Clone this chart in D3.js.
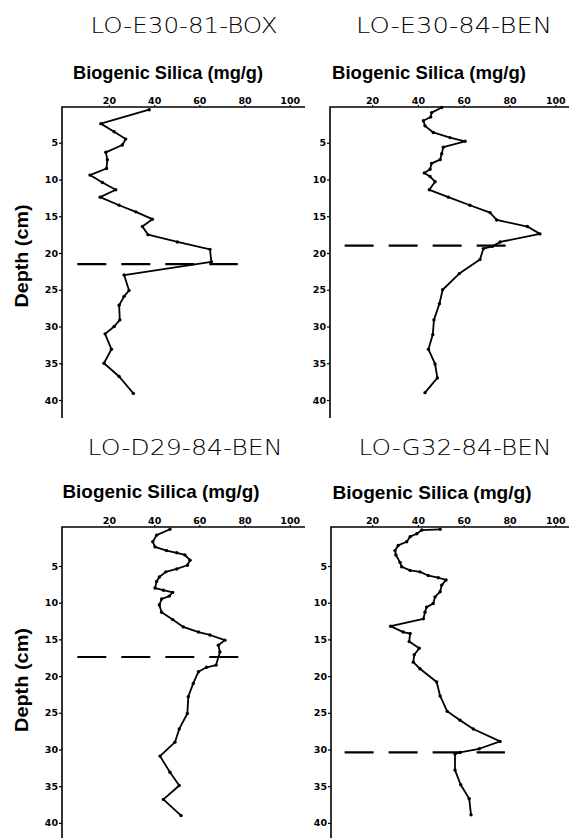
<!DOCTYPE html>
<html>
<head>
<meta charset="utf-8">
<script src="https://cdn.jsdelivr.net/npm/d3@7"></script>
<style>
  body { margin: 0; background: #fff; }
  svg { display: block; }
  .tick text { font-family: 'DejaVu Sans', sans-serif; font-weight: bold; font-size: 9.5px; fill: #000; }
  .tick line { stroke: #000; stroke-width: 1.2; }
  .core-title { font-family: 'DejaVu Sans', sans-serif; font-weight: 300; font-size: 22px; }
  .axis-title { font-family: 'Liberation Sans', Arial, sans-serif; font-weight: bold; font-size: 19px; }
</style>
</head>
<body>
<div id="chart"></div>
<script>
// Biogenic silica profiles, four cores
const WIDTH = 569;
const HEIGHT = 838;

const CORE_NAMES = ['LO-E30-81-BOX', 'LO-E30-84-BEN', 'LO-D29-84-BEN', 'LO-G32-84-BEN'];
const SILICA_TICKS = [20, 40, 60, 80, 100];
const DEPTH_TICKS = [5, 10, 15, 20, 25, 30, 35, 40];
const X_TITLES = ['Biogenic Silica (mg/g)', 'Biogenic Silica  (mg/g)', 'Biogenic Silica  (mg/g)', 'Biogenic Silica  (mg/g)'];
const Y_TITLE = 'Depth  (cm)';

// depth (cm) and biogenic silica (mg/g)
const E30_81_DEPTH = [0.5, 2.4, 3.5, 4.5, 5.3, 6.3, 7.3, 8.5, 9.4, 10.4, 11.4, 12.4, 13.5, 14.4, 15.4, 16.4, 17.5, 18.5, 19.5, 21.2, 23.0, 25.1, 25.9, 27.1, 29.1, 30.0, 31.0, 33.1, 35.0, 36.8, 39.1];
const E30_81_SILICA = [37.8, 16.4, 22.3, 27.4, 25.9, 18.6, 19.3, 18.9, 11.6, 17.1, 23.0, 16.1, 24.5, 31.9, 39.2, 34.8, 37.3, 50.3, 64.7, 65.3, 26.7, 28.9, 26.7, 24.5, 24.8, 22.3, 18.3, 21.1, 17.8, 24.5, 30.8];

const E30_84_DEPTH = [0.2, 0.9, 1.5, 2.0, 2.7, 3.6, 4.3, 4.8, 5.6, 6.5, 7.3, 7.8, 8.6, 9.1, 9.6, 10.3, 11.4, 12.4, 13.5, 14.5, 15.5, 16.4, 17.4, 18.5, 19.1, 19.4, 20.9, 22.8, 25.0, 26.9, 29.1, 31.1, 33.1, 35.1, 37.0, 39.0];
const E30_84_SILICA = [50.4, 46.0, 45.6, 42.4, 43.1, 46.7, 54.0, 60.6, 51.1, 50.4, 49.7, 46.0, 45.3, 42.8, 45.3, 47.5, 45.0, 53.3, 62.7, 71.5, 74.4, 87.8, 93.3, 75.9, 72.5, 68.6, 67.1, 58.1, 50.8, 49.4, 47.0, 46.5, 44.6, 47.5, 48.5, 43.1];

const D29_84_DEPTH = [0.0, 0.8, 1.7, 2.4, 2.9, 3.2, 3.5, 4.2, 4.9, 5.4, 5.8, 6.5, 7.1, 8.0, 8.3, 8.6, 9.1, 9.5, 10.3, 11.3, 12.3, 13.3, 14.0, 14.4, 15.1, 15.8, 16.7, 18.5, 18.8, 19.4, 21.0, 22.8, 25.1, 27.2, 29.0, 30.9, 33.1, 34.9, 36.8, 39.0];
const D29_84_SILICA = [47.0, 41.1, 39.4, 40.4, 45.5, 50.0, 53.6, 55.9, 54.7, 50.0, 45.2, 42.3, 41.1, 40.4, 44.1, 48.2, 46.7, 43.3, 42.3, 43.3, 48.2, 52.9, 59.6, 64.7, 71.3, 68.4, 69.1, 67.4, 63.2, 59.6, 57.3, 55.1, 54.7, 51.1, 49.2, 42.6, 47.0, 51.1, 44.1, 51.9];

const G32_84_DEPTH = [0.0, 0.1, 0.6, 1.0, 1.7, 2.2, 2.9, 3.5, 4.5, 5.1, 5.6, 5.8, 6.3, 6.6, 6.9, 7.6, 8.5, 9.2, 10.1, 10.6, 11.3, 12.2, 13.2, 14.0, 14.2, 15.3, 16.2, 17.1, 18.1, 19.0, 20.8, 22.7, 24.8, 26.0, 27.2, 28.9, 29.9, 30.4, 30.6, 32.8, 34.8, 36.7, 38.9];
const G32_84_SILICA = [49.7, 41.7, 39.5, 36.6, 35.1, 31.4, 30.0, 30.4, 32.2, 32.9, 36.6, 40.9, 44.5, 48.9, 52.3, 50.4, 49.7, 47.5, 46.7, 43.8, 43.1, 42.4, 28.1, 33.6, 36.6, 36.2, 40.6, 38.4, 38.0, 40.9, 48.2, 49.7, 52.8, 58.4, 64.2, 75.9, 66.8, 58.4, 56.2, 56.2, 58.7, 62.4, 63.2];

// dashed boundary line: depth and silica extent of the dashes
const BOUNDARY_DEPTH = [21.5, 19.0, 17.4, 30.4];
const BOUNDARY_FROM = [6, 8, 6, 8];
const BOUNDARY_TO = [77, 79, 78, 78];

const DEPTHS = [E30_81_DEPTH, E30_84_DEPTH, D29_84_DEPTH, G32_84_DEPTH];
const SILICAS = [E30_81_SILICA, E30_84_SILICA, D29_84_SILICA, G32_84_SILICA];

// layout of each panel (pixels)
const PANELS = [
  { left: 62, top: 107, xr: [63.75, 289.75], yr: [106, 400], bottom: 418, right: 305,
    title: [184, 33, 187], xTitle: [168, 79, 190], yTitle: [28, 256, 103] },
  { left: 330, top: 107, xr: [326.3, 555.3], yr: [106, 400], bottom: 418, right: 569,
    title: [454, 33, 196], xTitle: [429, 79, 194], yTitle: null },
  { left: 62, top: 527, xr: [63.75, 289.75], yr: [529.3, 822.9], bottom: 838, right: 305,
    title: [185, 455, 195], xTitle: [161, 498, 197], yTitle: [28, 680, 104] },
  { left: 331, top: 527, xr: [326.3, 555.3], yr: [529.3, 822.9], bottom: 838, right: 569,
    title: [455, 455, 193], xTitle: [432, 499, 199], yTitle: null }
];

const svg = d3.select('#chart')
  .append('svg')
  .attr('width', WIDTH)
  .attr('height', HEIGHT);

PANELS.forEach((p, i) => drawPanel(p, i));

function drawPanel (p, i) {
  const x = d3.scaleLinear().domain([0, 100]).range(p.xr);
  const y = d3.scaleLinear().domain([0, 40]).range(p.yr);
  const g = svg.append('g').attr('class', 'panel');

  // frame: top and left axis lines
  g.append('path')
    .attr('d', `M${p.right},${p.top}H${p.left}V${p.bottom}`)
    .attr('fill', 'none')
    .attr('stroke', '#000')
    .attr('stroke-width', 1.6);

  g.append('g')
    .attr('transform', `translate(0,${p.top})`)
    .call(d3.axisTop(x).tickValues(SILICA_TICKS).tickSize(2).tickPadding(1))
    .call(a => a.select('.domain').remove());

  g.append('g')
    .attr('transform', `translate(${p.left},0)`)
    .call(d3.axisLeft(y).tickValues(DEPTH_TICKS).tickSize(3).tickPadding(1))
    .call(a => a.select('.domain').remove());

  // boundary
  g.append('line')
    .attr('x1', x(BOUNDARY_FROM[i]))
    .attr('x2', x(BOUNDARY_TO[i]))
    .attr('y1', y(BOUNDARY_DEPTH[i]))
    .attr('y2', y(BOUNDARY_DEPTH[i]))
    .attr('stroke', '#000')
    .attr('stroke-width', 2.2)
    .attr('stroke-dasharray', '29,15');

  const data = d3.zip(DEPTHS[i], SILICAS[i]).map(([depth, silica]) => ({ depth, silica }));

  const line = d3.line()
    .x(d => x(d.silica))
    .y(d => y(d.depth));

  g.append('path')
    .datum(data)
    .attr('d', line)
    .attr('fill', 'none')
    .attr('stroke', '#000')
    .attr('stroke-width', 1.8)
    .attr('stroke-linejoin', 'round');

  g.selectAll('circle')
    .data(data)
    .join('circle')
    .attr('cx', d => x(d.silica))
    .attr('cy', d => y(d.depth))
    .attr('r', 1.7)
    .attr('fill', '#000');

  g.append('text')
    .attr('class', 'core-title')
    .attr('x', p.title[0])
    .attr('y', p.title[1])
    .attr('text-anchor', 'middle')
    .attr('textLength', p.title[2])
    .attr('lengthAdjust', 'spacingAndGlyphs')
    .text(CORE_NAMES[i]);

  g.append('text')
    .attr('class', 'axis-title')
    .attr('x', p.xTitle[0])
    .attr('y', p.xTitle[1])
    .attr('text-anchor', 'middle')
    .attr('textLength', p.xTitle[2])
    .attr('lengthAdjust', 'spacingAndGlyphs')
    .text(X_TITLES[i]);

  if (p.yTitle) {
    g.append('text')
      .attr('class', 'axis-title')
      .attr('transform', `translate(${p.yTitle[0]},${p.yTitle[1]}) rotate(-90)`)
      .attr('text-anchor', 'middle')
      .attr('textLength', p.yTitle[2])
      .attr('lengthAdjust', 'spacingAndGlyphs')
      .text(Y_TITLE);
  }
}
</script>
</body>
</html>
